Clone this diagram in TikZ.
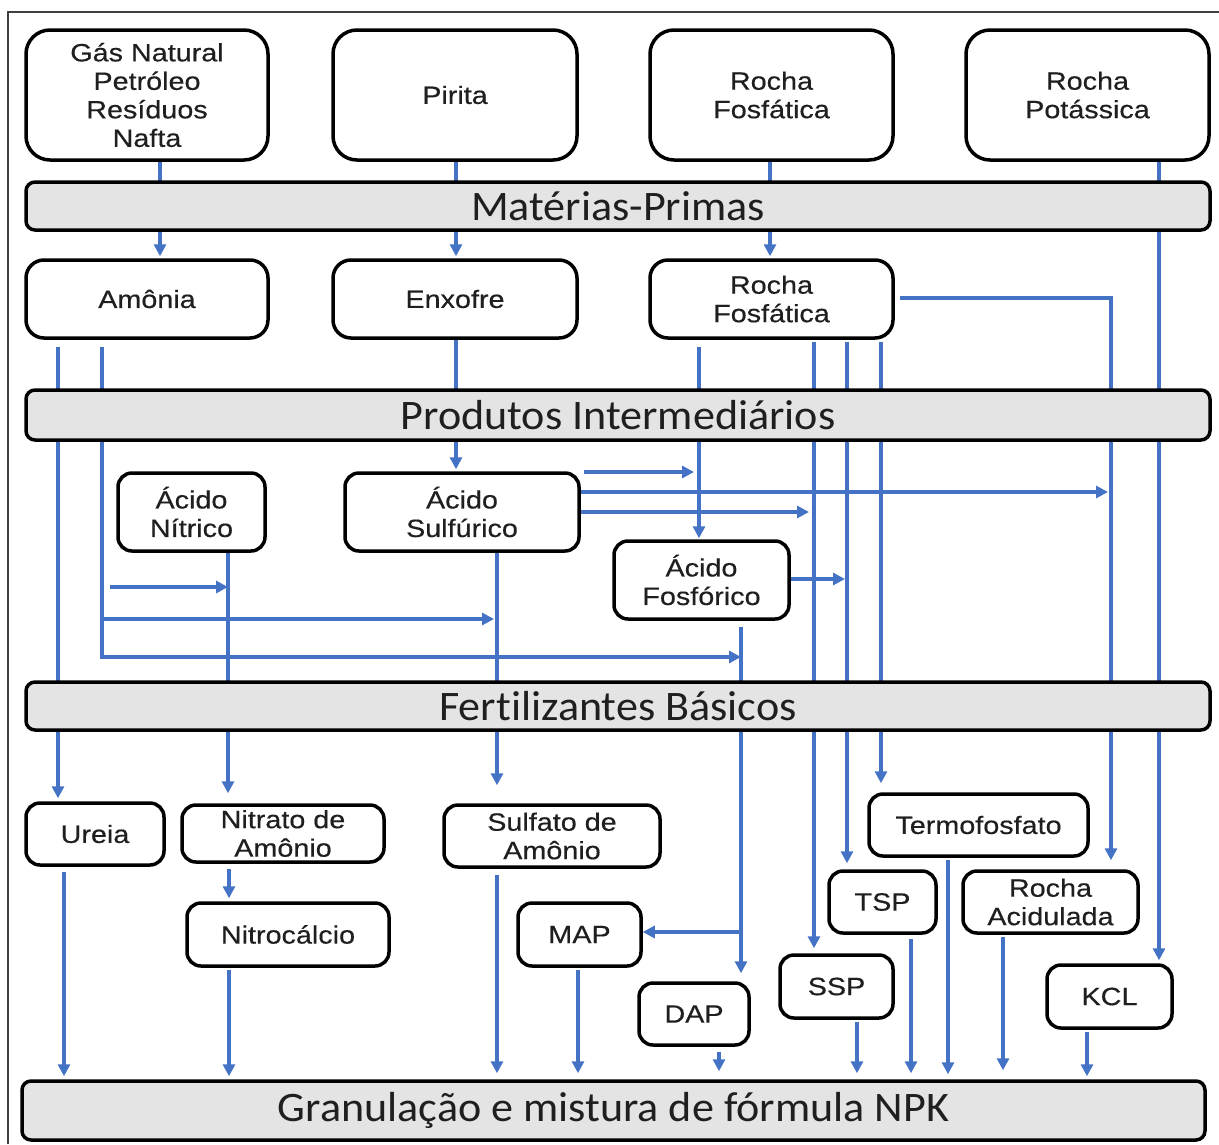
\documentclass[tikz,border=0pt]{standalone}
\usepackage{fontspec}
\usetikzlibrary{arrows.meta,calc}
\newfontfamily\boxfont[FakeStretch=1.15,FakeBold=0.4]{Liberation Sans}
\newfontfamily\barfont[FakeStretch=1.05,Ligatures=NoCommon]{Carlito}
\definecolor{flowblue}{HTML}{4472C4}
\definecolor{barfill}{HTML}{E4E4E4}
\definecolor{txtgray}{HTML}{1F1F1F}
\pgfdeclarelayer{bg}
\pgfsetlayers{bg,main}
\begin{document}
\begin{tikzpicture}[x=1pt,y=-1pt,
  box/.style={draw=black, line width=3.5pt, rounded corners=14pt, fill=white, align=center,
              text=txtgray, font=\boxfont\fontsize{25}{28.5}\selectfont, inner sep=0pt},
  topbox/.style={box, rounded corners=24pt},
  bar/.style={draw=black, line width=3.5pt, rounded corners=9pt, fill=barfill,
              text=txtgray, font=\barfont\fontsize{42}{48}\selectfont, inner sep=0pt},
  flow/.style={draw=flowblue, line width=3.3pt},
  arr/.style={flow, -{Triangle[length=12pt,width=12pt]}},
  frameline/.style={draw=black!75, line width=2pt}
]
\useasboundingbox (0,0) rectangle (1219,1144);
\draw[frameline] (8,1144) -- (8,12) -- (1219,12);

% top row
\node[topbox, minimum width=242pt, minimum height=130pt] (gas) at (147,95) {Gás Natural\\Petróleo\\Resíduos\\Nafta};
\node[topbox, minimum width=244pt, minimum height=130pt] (pirita) at (455,95) {Pirita};
\node[topbox, minimum width=243pt, minimum height=130pt] (rocha) at (771.5,95) {Rocha\\Fosfática};
\node[topbox, minimum width=243pt, minimum height=130pt] (potassa) at (1087.5,95) {Rocha\\Potássica};

\node[bar, minimum width=1184pt, minimum height=48pt] (bar1) at (618,206) {Matérias-Primas};

% second row
\node[box, rounded corners=18pt, minimum width=242pt, minimum height=78pt] (amonia) at (147,299) {Amônia};
\node[box, rounded corners=18pt, minimum width=244pt, minimum height=78pt] (enxofre) at (455,299) {Enxofre};
\node[box, rounded corners=18pt, minimum width=243pt, minimum height=78pt] (rocha2) at (771.5,299) {Rocha\\Fosfática};

\node[bar, minimum width=1184pt, minimum height=50pt] (bar2) at (618,415) {Produtos Intermediários};

% intermediates
\node[box, minimum width=147pt, minimum height=78pt] (nitrico) at (191.5,512) {Ácido\\Nítrico};
\node[box, minimum width=234pt, minimum height=78pt] (sulfurico) at (462,512) {Ácido\\Sulfúrico};
\node[box, minimum width=175pt, minimum height=78pt] (fosforico) at (701.5,580) {Ácido\\Fosfórico};

\node[bar, minimum width=1184pt, minimum height=48pt] (bar3) at (618,706) {Fertilizantes Básicos};

% basic fertilizers
\node[box, minimum width=138pt, minimum height=62pt] (ureia) at (95,834) {Ureia};
\node[box, minimum width=202pt, minimum height=57pt] (nitrato) at (283,833.5) {Nitrato de\\Amônio};
\node[box, minimum width=216pt, minimum height=62pt] (sulfato) at (552,836) {Sulfato de\\Amônio};
\node[box, minimum width=219pt, minimum height=62pt] (termo) at (978.5,825) {Termofosfato};
\node[box, minimum width=202pt, minimum height=63pt] (nitrocalcio) at (288,934.5) {Nitrocálcio};
\node[box, minimum width=123pt, minimum height=63pt] (map) at (579.5,934.5) {MAP};
\node[box, minimum width=107pt, minimum height=62pt] (tsp) at (882.5,902) {TSP};
\node[box, minimum width=175pt, minimum height=62pt] (rochaacid) at (1050.5,902) {Rocha\\Acidulada};
\node[box, minimum width=113pt, minimum height=63pt] (ssp) at (836.5,986.5) {SSP};
\node[box, minimum width=125pt, minimum height=63pt] (kcl) at (1109.5,996.5) {KCL};
\node[box, minimum width=110pt, minimum height=62pt] (dap) at (694,1014) {DAP};

\node[bar, minimum width=1183pt, minimum height=59pt] (bar4) at (613.5,1110.5) {Granulação e mistura de fórmula NPK};

% column / row helpers
\coordinate (xAm) at (160,0);
\coordinate (xPi) at (456,0);
\coordinate (xRo) at (770,0);
\coordinate (xKc) at (1159,0);
\coordinate (xUr) at (58,0);
\coordinate (xAmB) at (102,0);
\coordinate (xNi) at (228,0);
\coordinate (xSu) at (497,0);
\coordinate (xFo) at (699,0);
\coordinate (xSs) at (814,0);
\coordinate (xTs) at (847,0);
\coordinate (xTe) at (881,0);
\coordinate (xRa) at (1111,0);
\coordinate (xDa) at (741,0);
\coordinate (xUrB) at (64,0);
\coordinate (xNc) at (229,0);
\coordinate (xMa) at (578,0);
\coordinate (xDp) at (719,0);
\coordinate (xSsB) at (857,0);
\coordinate (xTsB) at (911,0);
\coordinate (xTeB) at (948,0);
\coordinate (xRaB) at (1003,0);
\coordinate (xKcB) at (1087,0);
\coordinate (yB2) at (0,619);
\coordinate (yB3) at (0,657);
\coordinate (yS1) at (0,472);
\coordinate (yS2) at (0,492);
\coordinate (yS3) at (0,512);
\coordinate (yR) at (0,298);
\coordinate (yF) at (0,579);
\coordinate (yM) at (0,932);
\coordinate (b1) at (110,587);

\begin{pgfonlayer}{bg}
\draw[arr, shorten >=2pt] (gas.south -| xAm) -- (amonia.north -| xAm);
\draw[arr, shorten >=2pt] (pirita.south -| xPi) -- (enxofre.north -| xPi);
\draw[arr, shorten >=2pt] (rocha.south -| xRo) -- (rocha2.north -| xRo);
\draw[arr, shorten >=3pt] (potassa.south -| xKc) -- (kcl.north -| xKc);

\draw[arr, shorten <=7pt, shorten >=3pt] (amonia.south -| xUr) -- (ureia.north -| xUr);
\draw[arr, shorten <=7pt] (amonia.south -| xAmB) |- (yB3 -| xDa);
\draw[arr] (b1) -- (b1 -| xNi);
\draw[arr, shorten >=3pt] (yB2 -| xAmB) -- (yB2 -| xSu);

\draw[arr, shorten >=10pt] (nitrico.south -| xNi) -- (nitrato.north -| xNi);
\draw[arr, shorten >=2pt] (enxofre.south -| xPi) -- (sulfurico.north -| xPi);
\draw[arr, shorten >=18pt] (sulfurico.south -| xSu) -- (sulfato.north -| xSu);
\draw[arr, shorten <=3pt, shorten >=5pt] (sulfurico.east |- yS1) -- (yS1 -| xFo);
\draw[arr, shorten >=3pt] (sulfurico.east |- yS2) -- (yS2 -| xRa);
\draw[arr, shorten >=5pt] (sulfurico.east |- yS3) -- (yS3 -| xSs);

\draw[arr, shorten <=7pt, shorten >=1pt] (rocha2.south -| xFo) -- (fosforico.north -| xFo);
\draw[arr, shorten <=2pt, shorten >=5pt] (rocha2.south -| xSs) -- (ssp.north -| xSs);
\draw[arr, shorten <=2pt, shorten >=6pt] (rocha2.south -| xTs) -- (tsp.north -| xTs);
\draw[arr, shorten <=2pt, shorten >=9pt] (rocha2.south -| xTe) -- (termo.north -| xTe);
\draw[arr, shorten <=5pt, shorten >=9pt] (rocha2.east |- yR) -| (rochaacid.north -| xRa);

\draw[arr, shorten >=2pt] (fosforico.east |- yF) -- (yF -| xTs);
\draw[arr, shorten <=6pt, shorten >=8pt] (fosforico.south -| xDa) -- (dap.north -| xDa);
\draw[arr] (yM -| xDa) -- (map.east |- yM);

\draw[arr, shorten <=5pt, shorten >=3pt] (ureia.south -| xUrB) -- (bar4.north -| xUrB);
\draw[arr, shorten <=5pt, shorten >=3pt] (nitrato.south -| xNc) -- (nitrocalcio.north -| xNc);
\draw[arr, shorten <=2pt, shorten >=3pt] (nitrocalcio.south -| xNc) -- (bar4.north -| xNc);
\draw[arr, shorten <=6pt, shorten >=6pt] (sulfato.south -| xSu) -- (bar4.north -| xSu);
\draw[arr, shorten <=2pt, shorten >=6pt] (map.south -| xMa) -- (bar4.north -| xMa);
\draw[arr, shorten <=5pt, shorten >=8pt] (dap.south -| xDp) -- (bar4.north -| xDp);
\draw[arr, shorten <=2pt, shorten >=6pt] (ssp.south -| xSsB) -- (bar4.north -| xSsB);
\draw[arr, shorten <=4pt, shorten >=6pt] (tsp.south -| xTsB) -- (bar4.north -| xTsB);
\draw[arr, shorten <=2pt, shorten >=5pt] (termo.south -| xTeB) -- (bar4.north -| xTeB);
\draw[arr, shorten <=2pt, shorten >=9pt] (rochaacid.south -| xRaB) -- (bar4.north -| xRaB);
\draw[arr, shorten <=2pt, shorten >=3pt] (kcl.south -| xKcB) -- (bar4.north -| xKcB);
\end{pgfonlayer}
\end{tikzpicture}
\end{document}
